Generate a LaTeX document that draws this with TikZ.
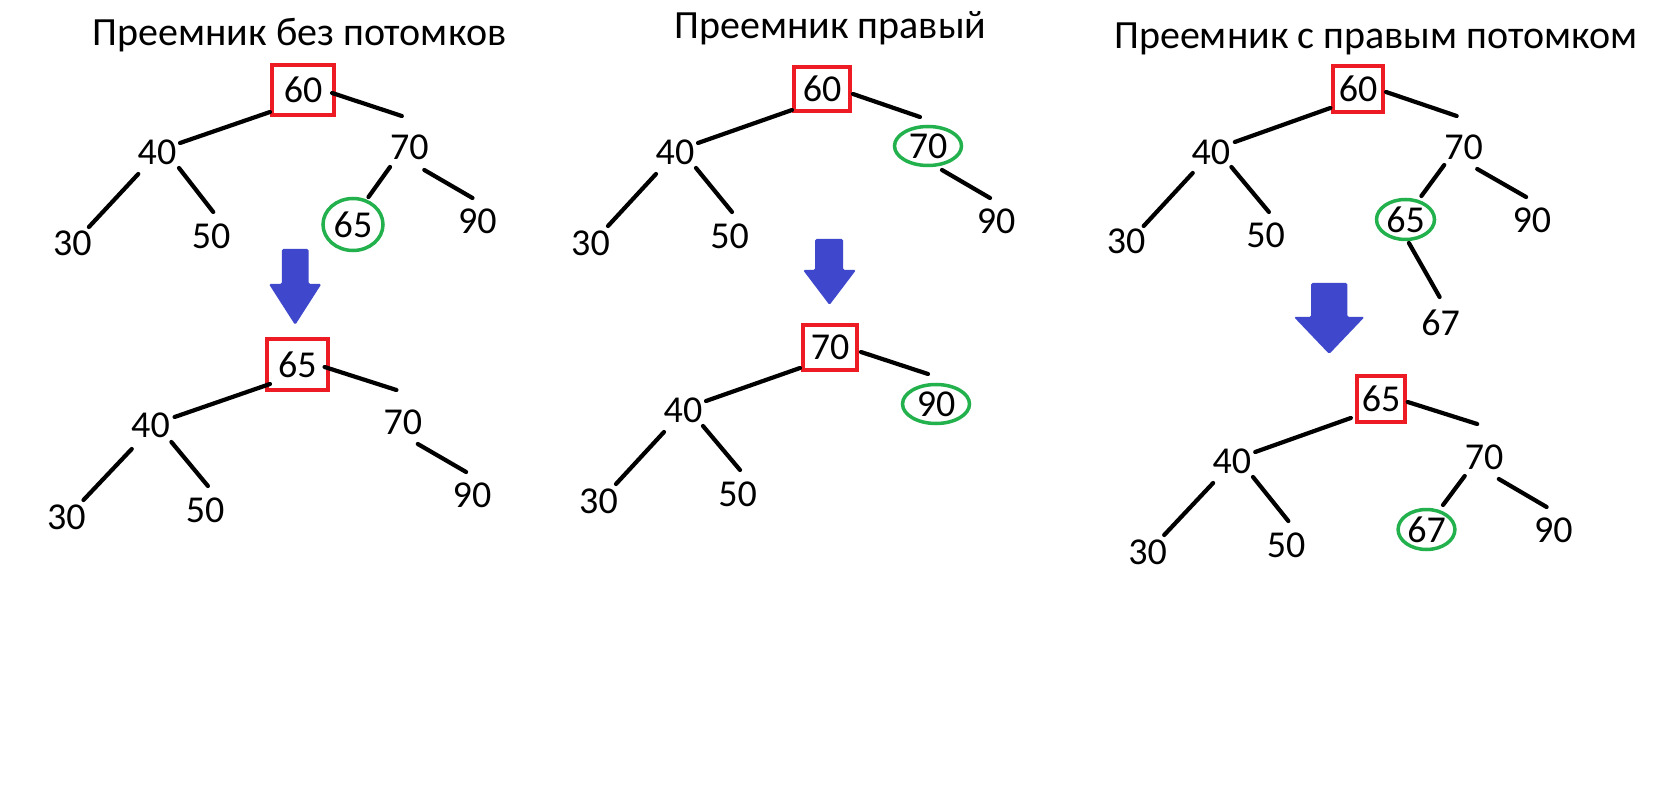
\documentclass[tikz,border=0pt]{standalone}
\usepackage{fontspec}
\setmainfont{Carlito}
\usetikzlibrary{shapes.geometric,calc}
\definecolor{boxred}{HTML}{ED1C24}
\definecolor{ringgreen}{HTML}{22B14C}
\definecolor{arrowblue}{HTML}{3F48CC}

% branch between two named nodes, each end shifted from the node centre
\newcommand\branch[4]{\draw[branchline] ($(#1)+(#2)$) -- ($(#3)+(#4)$);}
% filled block arrow pointing down: shaft left/right, top, shoulder, head left/right, tip
\newcommand\blockarrow[7]{%
  \fill[arrowblue,rounded corners=1.5pt]
    (#1,#3) -- (#2,#3) -- (#2,#4) -- (#6,#4) -- ({(#5+#6)/2},#7)
    -- (#5,#4) -- (#1,#4) -- cycle;}

\begin{document}
\begin{tikzpicture}[x=1pt,y=-1pt,
  num/.style={inner sep=0pt,font=\fontsize{38}{40}\selectfont},
  heading/.style={anchor=base,inner sep=0pt,font=\fontsize{40}{44}\selectfont},
  rootbox/.style 2 args={num,draw=boxred,line width=4pt,
    minimum width=#1,minimum height=#2},
  ring/.style 2 args={num,ellipse,draw=ringgreen,line width=3.5pt,
    minimum width=#1,minimum height=#2},
  branchline/.style={line width=4.2pt,line cap=round}]

\useasboundingbox[fill=white] (0,0) rectangle (1675,791);

% ---------- headings ----------
\node[heading] (h1) at (299.5,46) {Преемник без потомков};
\node[heading] (h2) at (830.5,39) {Преемник правый};
\node[heading] (h3) at (1375.9,49) {Преемник с правым потомком};

% ---------- case 1: successor is a leaf ----------
\node[rootbox={62}{50}] (a60) at (303.2,90) {60};
\node[num] (a40) at (157,152) {40};
\node[num] (a70) at (409.3,147) {70};
\node[num] (a30) at (72.3,243) {30};
\node[num] (a50) at (211.1,236) {50};
\node[ring={60}{52}] (a65) at (353,224.5) {65};
\node[num] (a90) at (477.3,221) {90};
\branch{a60}{-33.2,22}{a40}{23,-9}
\branch{a60}{28.9,3}{a70}{-7.5,-31}
\branch{a40}{-18.75,22}{a30}{16.6,-16}
\branch{a40}{22,16}{a50}{2.1,-24}
\branch{a70}{-19.3,20}{a65}{15.5,-27.5}
\branch{a70}{15,23}{a90}{-4.8,-23}

\blockarrow{281.8}{308.6}{249}{284}{268.9}{321.4}{325}

\node[rootbox={61.4}{51}] (b65) at (297.3,364.5) {65};
\node[num] (b40) at (150.5,425.5) {40};
\node[num] (b70) at (402.8,422) {70};
\node[num] (b30) at (66.4,517) {30};
\node[num] (b50) at (205.2,510) {50};
\node[num] (b90) at (472,495.5) {90};
\branch{b65}{-27.3,19.5}{b40}{24.1,-8.5}
\branch{b65}{27.3,2.5}{b70}{-6.4,-32}
\branch{b40}{-18.75,23.5}{b30}{17.1,-17}
\branch{b40}{20.9,16.5}{b50}{2.7,-24}
\branch{b70}{15,22}{b90}{-5.9,-23.5}

% ---------- case 2: successor is the right child ----------
\node[rootbox={56}{44}] (c60) at (822,89) {60};
\node[num] (c40) at (675,152) {40};
\node[ring={67}{39}] (c70) at (928,146) {70};
\node[num] (c30) at (590.5,243.5) {30};
\node[num] (c50) at (729.5,236) {50};
\node[num] (c90) at (996,221) {90};
\branch{c60}{-30,21}{c40}{23,-9}
\branch{c60}{31,5}{c70}{-8,-29}
\branch{c40}{-19,22}{c30}{17.5,-17.5}
\branch{c40}{21,16}{c50}{2.5,-24}
\branch{c70}{14,24}{c90}{-6,-23}

\blockarrow{815}{843}{239}{270}{803}{856}{305}

\node[rootbox={54}{45}] (d70) at (830,347.5) {70};
\node[num] (d40) at (683,410) {40};
\node[ring={67}{39}] (d90) at (936,404) {90};
\node[num] (d30) at (598.5,501) {30};
\node[num] (d50) at (737.5,494) {50};
\branch{d70}{-30,20.5}{d40}{23,-9}
\branch{d70}{31,4.5}{d90}{-8,-30}
\branch{d40}{-19,22}{d30}{17.5,-17}
\branch{d40}{20,16}{d50}{2.5,-24}

% ---------- case 3: successor has a right child ----------
\node[rootbox={49.5}{46}] (e60) at (1358.2,89) {60};
\node[num] (e40) at (1210.9,152) {40};
\node[num] (e70) at (1463.5,147) {70};
\node[num] (e30) at (1126.1,241.5) {30};
\node[num] (e50) at (1265.5,235.5) {50};
\node[ring={58}{40}] (e65) at (1405.5,219.5) {65};
\node[num] (e90) at (1531.8,220) {90};
\node[num] (e67) at (1440.7,323) {67};
\branch{e60}{-27.9,19}{e40}{23.9,-10}
\branch{e60}{27.9,3}{e70}{-6.8,-31}
\branch{e40}{-18.2,21}{e30}{17.6,-15.5}
\branch{e40}{20.5,15}{e50}{3.4,-23.5}
\branch{e70}{-19.3,18}{e65}{15.9,-23.5}
\branch{e70}{13.7,22}{e90}{-5.7,-23}
\branch{e65}{3.4,23.5}{e67}{-1.1,-26}

\blockarrow{1311}{1347.4}{283}{317}{1293.9}{1364.5}{354}

\node[rootbox={47.2}{46}] (f65) at (1381,399) {65};
\node[num] (f40) at (1231.9,461) {40};
\node[num] (f70) at (1484,457) {70};
\node[num] (f30) at (1147.7,552) {30};
\node[num] (f50) at (1286,545) {50};
\node[ring={56.8}{40}] (f67) at (1426.5,529.5) {67};
\node[num] (f90) at (1553.4,530) {90};
\branch{f65}{-30.2,19}{f40}{23.3,-9}
\branch{f65}{26.7,3}{f70}{-6.8,-33}
\branch{f40}{-18.8,22}{f30}{16.5,-17}
\branch{f40}{21.1,16}{f50}{2.3,-24}
\branch{f70}{-19.3,19}{f67}{16.5,-24.5}
\branch{f70}{14.8,22}{f90}{-6.8,-23}

\end{tikzpicture}
\end{document}
